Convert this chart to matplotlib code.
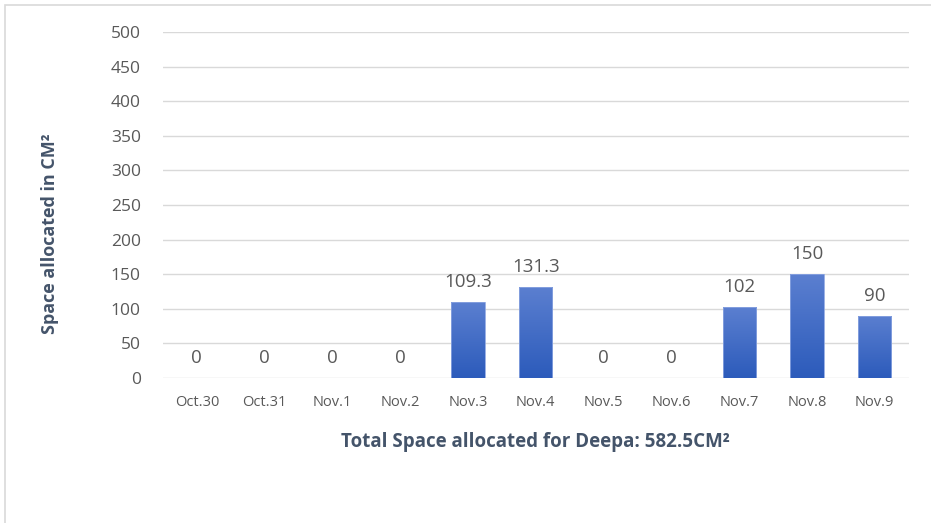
import numpy as np
import matplotlib
matplotlib.use('Agg')
import matplotlib.pyplot as plt
from matplotlib.patches import Rectangle

# data
dates = ['Oct.30', 'Oct.31', 'Nov.1', 'Nov.2', 'Nov.3', 'Nov.4',
         'Nov.5', 'Nov.6', 'Nov.7', 'Nov.8', 'Nov.9']
space = [0, 0, 0, 0, 109.3, 131.3, 0, 0, 102, 150, 90]
labels = ['0', '0', '0', '0', '109.3', '131.3', '0', '0', '102', '150', '90']
yticks = [0, 50, 100, 150, 200, 250, 300, 350, 400, 450, 500]

plt.rcParams['font.family'] = ['Open Sans', 'DejaVu Sans']

fig = plt.figure(figsize=(9.31, 5.23), dpi=100)
ax = fig.add_axes([0.175, 0.2772, 0.801, 0.6616])

# faint outer border of the chart box
fig.patches.append(Rectangle((0.0055, -0.01), 1.0, 1.0, transform=fig.transFigure,
                             fill=False, edgecolor='#d9d9d9', linewidth=1.2))

x = np.arange(len(dates))
bars = ax.bar(x, space, width=0.49, color='none', edgecolor='none', zorder=3)

# vertical gradient fill for each bar
grad = np.linspace(0, 1, 256).reshape(-1, 1)
cmap = matplotlib.colors.LinearSegmentedColormap.from_list('bl', ['#2c5bbb', '#5b7fd0'])
for b in bars:
    h = b.get_height()
    if h <= 0:
        continue
    x0 = b.get_x()
    w = b.get_width()
    im = ax.imshow(grad, cmap=cmap, aspect='auto', origin='lower',
                   extent=[x0, x0 + w, 0, h], zorder=3)
    im.set_clip_path(b)
    ax.add_patch(Rectangle((x0, 0), w, h, fill=False, edgecolor='#8aa4e0', linewidth=0.6, zorder=4))

for xi, v, lab in zip(x, space, labels):
    ax.annotate(lab, (xi, v), xytext=(0, 8), textcoords='offset points',
                ha='center', va='bottom', fontsize=13.5, color='#595959')

ax.set_xlim(-0.5, len(dates) - 0.5)
ax.set_ylim(0, 500)
ax.set_yticks(yticks)
ax.set_xticks(x)
ax.set_xticklabels(dates, fontsize=10.5, color='#595959')
ax.tick_params(axis='y', labelsize=12.5, labelcolor='#595959', length=0, pad=16)
ax.tick_params(axis='x', length=0, pad=12)
ax.grid(axis='y', color='#d9d9d9', linewidth=1.0, zorder=0)
ax.set_axisbelow(True)
for s in ax.spines.values():
    s.set_visible(False)

ax.set_xlabel('Total Space allocated for Deepa: 582.5CM\u00b2', fontsize=13.5,
              fontweight='bold', color='#44546a', labelpad=16)
ax.set_ylabel('Space allocated in CM\u00b2', fontsize=13, fontweight='bold',
              color='#44546a')
ax.yaxis.set_label_coords(-0.14, 0.416)

fig.savefig('out.png', dpi=100)
